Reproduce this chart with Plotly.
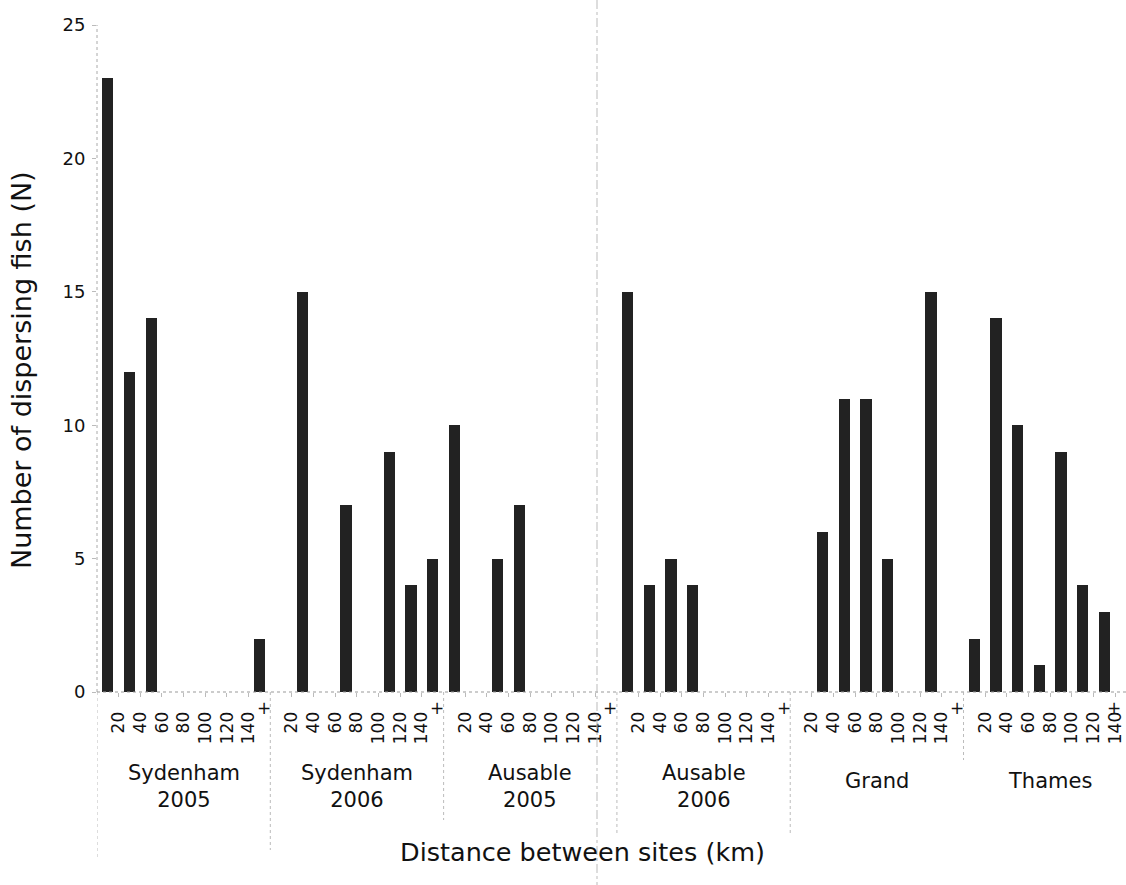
import plotly.graph_objects as go

# ---- data ----
groups = ["Sydenham<br>2005", "Sydenham<br>2006", "Ausable<br>2005", "Ausable<br>2006", "Grand", "Thames"]
bin_labels = ["20", "40", "60", "80", "100", "120", "140"]   # upper edges of distance bins; last bin is 140+
syd05 = [23, 12, 14, 0, 0, 0, 0, 2]
syd06 = [0, 15, 0, 7, 0, 9, 4, 5]
aus05 = [10, 0, 5, 7, 0, 0, 0, 0]
aus06 = [15, 4, 5, 4, 0, 0, 0, 0]
grand = [0, 6, 11, 11, 5, 0, 15, 0]
thames = [2, 14, 10, 1, 9, 4, 3, 0]
series = [syd05, syd06, aus05, aus06, grand, thames]

NB = 8  # bins per group
xs, ys = [], []
for g, vals in enumerate(series):
    for b, v in enumerate(vals):
        xs.append(g * NB + b)
        ys.append(v)

FONT = "DejaVu Sans"
W, H = 1126, 885
L, R, T, B = 97, 0, 25, 193
PH = H - T - B
PW = W - L - R

def py(Y):
    return (H - B - Y) / PH

def px(X):
    return (X - L) / PW

fig = go.Figure()
fig.add_trace(go.Bar(x=xs, y=ys, width=0.52,
                     marker=dict(color="#222222", line=dict(width=0)),
                     showlegend=False))

tickvals, ticktext = [], []
for g in range(len(groups)):
    for k, lab in enumerate(bin_labels):
        tickvals.append(g * NB + k + 0.5)
        ticktext.append(lab)

annotations = []
for g, name in enumerate(groups):
    two = "<br>" in name
    annotations.append(dict(x=g * NB + 3.5, xref="x", y=py(786 if two else 781), yref="paper",
                            text=name, showarrow=False, xanchor="center", yanchor="middle",
                            font=dict(family=FONT, size=21, color="#111")))
    # the '+' of 140+
    annotations.append(dict(x=g * NB + 6.5, xref="x", y=py(708), yref="paper",
                            xshift=15 if g < len(groups) - 1 else -1,
                            text="+", showarrow=False, xanchor="center", yanchor="middle",
                            font=dict(family=FONT, size=17, color="#111")))

annotations.append(dict(x=px(582), xref="paper", y=py(852), yref="paper",
                        text="Distance between sites (km)", showarrow=False,
                        xanchor="center", yanchor="middle",
                        font=dict(family=FONT, size=25.5, color="#111")))
annotations.append(dict(x=px(22), xref="paper", y=py(370), yref="paper",
                        text="Number of dispersing fish (N)", showarrow=False, textangle=-90,
                        xanchor="center", yanchor="middle",
                        font=dict(family=FONT, size=27, color="#111")))

shapes = []
shapes.append(dict(type="line", xref="paper", yref="paper", x0=0, x1=0, y0=0, y1=1,
                   line=dict(color="#aaaaaa", width=1, dash="dot")))
shapes.append(dict(type="line", xref="paper", yref="paper", x0=0, x1=1, y0=0, y1=0,
                   line=dict(color="#999999", width=1, dash="dot")))
sep_ends = [860, 850, 820, 835, 835, 760]
for g in range(len(groups)):
    shapes.append(dict(type="line", xref="x", yref="paper", x0=g * NB - 0.5, x1=g * NB - 0.5,
                       y0=0, y1=py(sep_ends[g]),
                       line=dict(color="#bbbbbb", width=1, dash="dot")))
shapes.append(dict(type="line", xref="paper", yref="paper", x0=px(597), x1=px(597),
                   y0=py(0), y1=py(885), line=dict(color="#bbbbbb", width=1, dash="dashdot")))

fig.update_layout(
    width=W, height=H,
    margin=dict(l=L, r=R, t=T, b=B, pad=0),
    paper_bgcolor="white", plot_bgcolor="white",
    font=dict(family=FONT, color="#111"),
    bargap=0,
    annotations=annotations,
    shapes=shapes,
    xaxis=dict(range=[-0.5, 47.0], tickmode="array", tickvals=tickvals, ticktext=ticktext,
               tickangle=-90, ticks="outside", ticklen=4, tickcolor="#bbbbbb",
               tickfont=dict(family=FONT, size=17, color="#111"),
               showgrid=False, zeroline=False, showline=False, ticklabelstandoff=8),
    yaxis=dict(range=[0, 25], tickvals=[0, 5, 10, 15, 20, 25],
               ticks="outside", ticklen=4, tickcolor="#bbbbbb",
               tickfont=dict(family=FONT, size=18, color="#111"),
               showgrid=False, zeroline=False, showline=False, ticklabelstandoff=3),
)

fig.write_html("out.html")
